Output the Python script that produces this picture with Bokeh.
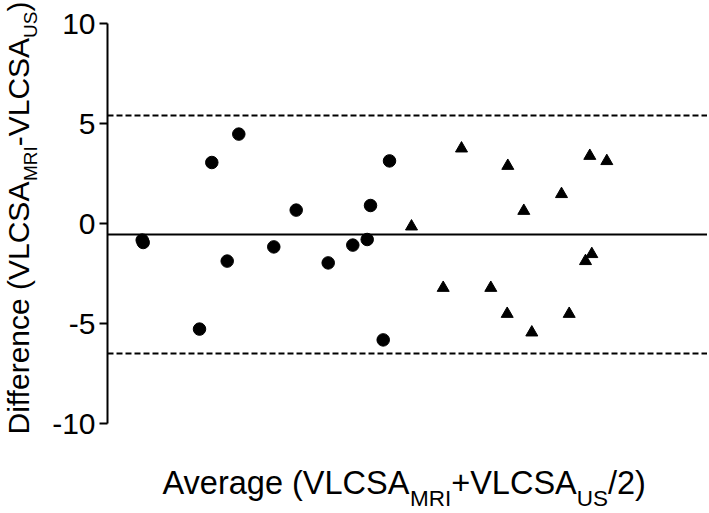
import math
from bokeh.plotting import figure
from bokeh.models import Span, Label, FixedTicker
from bokeh.layouts import row, column
from bokeh.embed import file_html
from bokeh.resources import INLINE

# ---- data ----
circle_avg = [3.47, 3.57, 9.20, 10.43, 13.13, 11.97, 16.63, 18.87, 22.07, 24.53, 25.97, 26.30, 28.20, 27.57]
circle_diff = [-0.83, -0.95, -5.28, 3.05, 4.47, -1.88, -1.17, 0.67, -1.97, -1.08, -0.80, 0.90, 3.13, -5.82]

tri_avg = [30.40, 35.40, 33.57, 38.33, 40.03, 39.97, 41.63, 42.43, 45.40, 46.17, 48.23, 49.93, 48.43, 47.80]
tri_diff = [-0.15, 3.75, -3.22, -3.22, 2.88, -4.52, 0.63, -5.45, 1.47, -4.52, 3.38, 3.12, -1.53, -1.88]

mean_diff = -0.55
upper_loa = 5.4
lower_loa = -6.5

y_ticks = [-10, -5, 0, 5, 10]
y_tick_labels = ["-10", "-5", "0", "5", "10"]

x_label_parts = [("Average (VLCSA", False), ("MRI", True), ("+VLCSA", False), ("US", True), ("/2)", False)]
y_label_parts = [("Difference (VLCSA", False), ("MRI", True), ("-VLCSA", False), ("US", True), (")", False)]

FONT = "Liberation Sans"

# Arial / Liberation Sans advance widths (per 1000 em)
W = {"A": 667, "C": 722, "D": 722, "I": 278, "L": 556, "M": 833, "R": 722, "S": 667, "U": 722, "V": 667,
     "a": 556, "c": 500, "e": 556, "f": 278, "g": 556, "i": 222, "n": 556, "r": 333, "v": 500,
     " ": 278, "(": 333, ")": 333, "+": 584, "-": 333, "/": 278, "2": 556}


def text_width(s, size):
    return sum(W.get(ch, 556) for ch in s) / 1000.0 * size


def blank_fig(w, h):
    f = figure(width=w, height=h, output_backend="svg", toolbar_location=None,
               min_border=0, x_range=(0, 1), y_range=(0, 1))
    f.xaxis.visible = False
    f.yaxis.visible = False
    f.xgrid.visible = False
    f.ygrid.visible = False
    f.outline_line_color = None
    return f


LEFT_W = 45
MAIN_W = 662
MAIN_H = 455
XLAB_H = 55

# ---- main plot ----
p = figure(width=MAIN_W, height=MAIN_H, x_range=(0, 60), y_range=(-10, 10),
           output_backend="svg", toolbar_location=None,
           min_border_left=62, min_border_right=0, min_border_top=23, min_border_bottom=32)

p.xaxis.visible = False
p.xgrid.visible = False
p.ygrid.visible = False
p.outline_line_color = None

ya = p.yaxis[0]
ya.ticker = FixedTicker(ticks=y_ticks)
ya.major_label_overrides = {t: l for t, l in zip(y_ticks, y_tick_labels)}
ya.minor_tick_line_color = None
ya.major_tick_in = 0
ya.major_tick_out = 8
ya.major_tick_line_width = 2
ya.major_tick_line_color = "black"
ya.axis_line_width = 2
ya.axis_line_color = "black"
ya.major_label_text_font = FONT
ya.major_label_text_font_size = "30px"
ya.major_label_text_color = "black"
ya.major_label_standoff = 4

# Bland-Altman lines
p.add_layout(Span(location=mean_diff, dimension="width", line_color="black", line_width=2))
p.add_layout(Span(location=upper_loa, dimension="width", line_color="black", line_width=2, line_dash="6 3"))
p.add_layout(Span(location=lower_loa, dimension="width", line_color="black", line_width=2, line_dash="6 3"))

p.scatter(circle_avg, circle_diff, marker="circle", size=12.5, color="black")
p.scatter(tri_avg, tri_diff, marker="triangle", size=12, color="black")

# ---- x axis title with subscripts (anchors at cap-height centre) ----
xl = blank_fig(MAIN_W, XLAB_H)
main_x, sub_x = 32.5, 22.5
cx = 117.0
for txt, is_sub in x_label_parts:
    size = sub_x if is_sub else main_x
    yy = 43.0 if is_sub else 27.0
    xl.add_layout(Label(x=cx, y=yy, x_units="canvas", y_units="canvas", text=txt,
                        text_font=FONT, text_font_size=f"{size}px", text_color="black",
                        text_align="left", text_baseline="middle"))
    cx += text_width(txt, size)

# ---- y axis title (rotated) with subscripts ----
yl = blank_fig(LEFT_W, MAIN_H + XLAB_H)
main_y, sub_y = 30, 19
cy = 434.0
for txt, is_sub in y_label_parts:
    size = sub_y if is_sub else main_y
    xx = 30.0 if is_sub else 17.5
    yl.add_layout(Label(x=xx, y=cy, x_units="canvas", y_units="canvas", text=txt,
                        text_font=FONT, text_font_size=f"{size}px", text_color="black",
                        text_align="left", text_baseline="middle", angle=math.pi / 2))
    cy -= text_width(txt, size)

layout = row(yl, column(p, xl))

open("out.html", "w").write(file_html(layout, INLINE))
